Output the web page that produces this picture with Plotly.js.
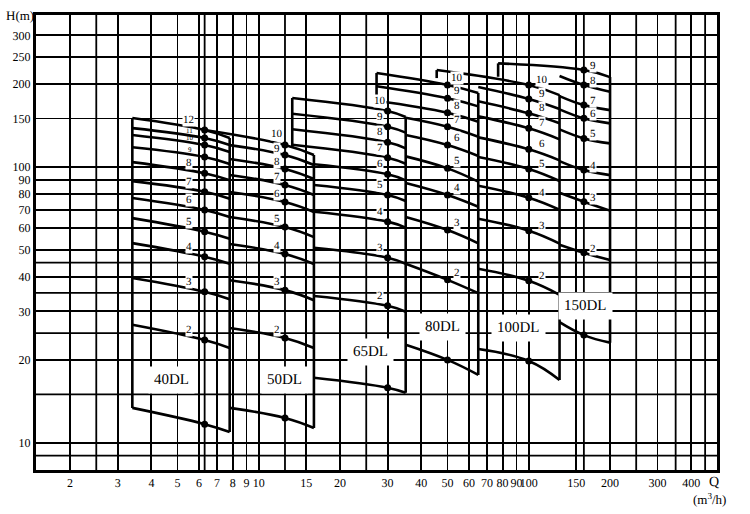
<!DOCTYPE html>
<html><head><meta charset="utf-8">
<script src="https://cdn.plot.ly/plotly-3.0.1.min.js"></script>
<style>html,body{margin:0;padding:0;background:#fff}#chart{width:750px;height:514px}
svg text{-webkit-font-smoothing:antialiased;text-rendering:geometricPrecision}</style>
</head><body><div id="chart"></div>
<script>
// ---- data ----
const families = ['40DL', '50DL', '65DL', '80DL', '100DL', '150DL'];
const qMin   = [3.4, 6.3, 13.3, 27.3, 45.6, 77];
const qRated = [6.3, 12.5, 30, 50, 100, 160];
const qMax   = [7.8, 16, 35, 65, 130, 200];
const leftBottomH = [13.4, null, 118.2, 174.9, 210.1, 212.4];

// per stage (index 0 = 1 stage)
const qStart_40 = [3.4, 3.4, 3.4, 3.4, 3.4, 3.4, 3.4, 3.4, 3.4, 3.4, 3.4, 3.4];
const hStart_40 = [13.4, 26.8, 39.6, 53.0, 65.3, 77.2, 88.9, 104.2, 117.9, 130.6, 138.4, 150.6];
const hRated_40 = [11.7, 23.6, 35.3, 47.3, 58.3, 69.9, 81.4, 94.9, 108.7, 120.1, 127.4, 136.2];
const hEnd_40   = [10.96, 22.1, 33.2, 44.6, 55.0, 65.9, 76.8, 89.5, 102.5, 113.3, 120.2, 127.4];

const qStart_50 = [7.8, 7.8, 7.8, 7.8, 7.8, 7.8, 7.8, 7.8, 7.8, 6.3];
const hStart_50 = [13.4, 26.1, 38.9, 52.6, 65.9, 81.2, 93.6, 107.0, 120.1, 136.2];
const hRated_50 = [12.32, 24.0, 35.8, 48.4, 60.6, 74.7, 86.1, 98.4, 110.5, 120.2];
const hEnd_50   = [11.33, 22.1, 32.9, 44.5, 55.7, 68.7, 79.2, 90.5, 101.7, 110.6];

const qStart_65 = [16, 16, 16, 16, 16, 16, 13.3, 13.3, 13.3, 13.3];
const hStart_65 = [17.24, 34.1, 51.0, 68.9, 86.1, 102.3, 120.5, 137.0, 156.0, 177.9];
const hRated_65 = [15.86, 31.4, 46.9, 63.4, 79.2, 94.1, 108.1, 122.9, 140.0, 159.6];
const hEnd_65   = [15.2, 29.9, 44.6, 60.3, 75.3, 89.5, 102.8, 116.9, 133.2, 151.8];

const qStart_80 = [35, 35, 35, 35, 35, 35, 35, 27.3, 27.3, 27.3];
const hStart_80 = [22.7, 44.6, 65.9, 87.5, 109.3, 130.7, 150.9, 173.9, 196.1, 219.1];
const hRated_80 = [20.0, 39.0, 59.1, 79.2, 98.9, 120.2, 140.0, 157.3, 177.4, 198.2];
const hEnd_80   = [17.65, 34.9, 52.9, 71.8, 88.5, 109.7, 128.8, 145.9, 165.9, 185.4];

const qStart_100 = [65, 65, 65, 65, 65, 65, 65, 65, 65, 45.6];
const hStart_100 = [21.9, 42.8, 65.0, 85.5, 108.8, 128.1, 152.6, 173.0, 195.0, 224.6];
const hRated_100 = [19.82, 38.7, 58.8, 77.4, 98.4, 115.9, 138.1, 156.5, 176.4, 198.2];
const hEnd_100   = [16.9, 34.4, 52.8, 70.0, 89.0, 105.7, 126.0, 144.0, 162.3, 182.3];

const qStart_150 = [130, 130, 130, 130, 130, 130, 130, 130, 77];
const hStart_150 = [27.4, 52.3, 80.7, 105.1, 136.9, 161.8, 180.8, 213.7, 237.5];
const hRated_150 = [24.6, 48.9, 74.9, 97.5, 127.0, 150.1, 167.7, 198.2, 224.6];
const hEnd_150   = [23.1, 46.0, 69.5, 93.5, 121.8, 144.0, 160.8, 187.4, 211.8];

// axis ticks / grid
const xTicks      = [2, 3, 4, 5, 6, 7, 8, 9, 10, 15, 20, 30, 40, 50, 60, 70, 80, 90, 100, 150, 200, 300, 400];
const xTickLabels = ['2', '3', '4', '5', '6', '7', '8', '9', '10', '15', '20', '30', '40', '50', '60', '70', '80', '90', '100', '150', '200', '300', '400'];
const xExtraGrid  = [2.5, 6.3, 12.5, 25, 160, 250, 350, 450];
const yTicks      = [10, 20, 30, 40, 50, 60, 70, 80, 90, 100, 150, 200, 250, 300];
const yTickLabels = ['10', '20', '30', '40', '50', '60', '70', '80', '90', '100', '150', '200', '250', '300'];
const yExtraGrid  = [9, 15, 25, 35, 45];

// ---- styles / layout helpers ----
const qStarts = [qStart_40, qStart_50, qStart_65, qStart_80, qStart_100, qStart_150];
const hStarts = [hStart_40, hStart_50, hStart_65, hStart_80, hStart_100, hStart_150];
const hRateds = [hRated_40, hRated_50, hRated_65, hRated_80, hRated_100, hRated_150];
const hEnds   = [hEnd_40, hEnd_50, hEnd_65, hEnd_80, hEnd_100, hEnd_150];

const numXShift = [-16, -8, -8, 9, 13, 9];
const numYShift = [10, 8, 10, 7, 5, 4];
const yShiftOverride = {'1-9': 11, '1-8': 6, '1-7': 7};   // family index - stage index
const famLabelPos = [[4.73, 16.9], [12.5, 16.9], [26.0, 21.4], [47.9, 26.3], [91.9, 26.2], [162.5, 31.4]];

const FONT = 'Liberation Serif, Times New Roman, serif';
const LW = 2.6;
const GW = 1.8;
const traces = [];
const annotations = [];
const shapes = [];

// extra (unlabelled) grid lines; shapes on log axes take raw data values
xExtraGrid.forEach(v => shapes.push({type: 'line', layer: 'below', xref: 'x', yref: 'paper',
  x0: v, x1: v, y0: 0, y1: 1, line: {color: '#000', width: GW}}));
yExtraGrid.forEach(v => shapes.push({type: 'line', layer: 'below', xref: 'paper', yref: 'y',
  x0: 0, x1: 1, y0: v, y1: v, line: {color: '#000', width: GW}}));

families.forEach((fam, f) => {
  const n = hRateds[f].length;
  const minStarts = [];
  for (let i = 0; i < n; i++) {
    traces.push({
      x: [qStarts[f][i], qRated[f], qMax[f]],
      y: [hStarts[f][i], hRateds[f][i], hEnds[f][i]],
      mode: 'lines', line: {color: '#000', width: LW, shape: 'spline', smoothing: 1.2},
      hoverinfo: 'skip', showlegend: false
    });
    if (qStarts[f][i] === qMin[f]) minStarts.push(hStarts[f][i]);
    if (i >= 1) {
      const small = (f === 0 && i >= 8 && i <= 10);
      const key = f + '-' + i;
      const ys = small ? 7 : (key in yShiftOverride ? yShiftOverride[key] : numYShift[f]);
      annotations.push({
        x: Math.log10(qRated[f]), y: Math.log10(hRateds[f][i]), xref: 'x', yref: 'y',
        text: String(i + 1), showarrow: false,
        xshift: numXShift[f] + (small ? 1 : 0), yshift: ys,
        font: {family: FONT, size: small ? 7 : 11, color: '#000'},
        bgcolor: small ? 'rgba(0,0,0,0)' : '#fff', borderpad: 0
      });
    }
  }
  // rated points
  traces.push({
    x: hRateds[f].map(() => qRated[f]), y: hRateds[f],
    mode: 'markers', marker: {color: '#000', size: 7},
    hoverinfo: 'skip', showlegend: false
  });
  // left boundary
  if (leftBottomH[f] !== null) {
    traces.push({
      x: [qMin[f], qMin[f]], y: [Math.max(...minStarts), leftBottomH[f]],
      mode: 'lines', line: {color: '#000', width: LW}, hoverinfo: 'skip', showlegend: false
    });
  }
  // right boundary
  traces.push({
    x: [qMax[f], qMax[f]], y: [hEnds[f][n - 1], hEnds[f][0]],
    mode: 'lines', line: {color: '#000', width: LW}, hoverinfo: 'skip', showlegend: false
  });
  annotations.push({
    x: Math.log10(famLabelPos[f][0]), y: Math.log10(famLabelPos[f][1]), xref: 'x', yref: 'y',
    text: fam, showarrow: false, font: {family: FONT, size: 15, color: '#000'},
    bgcolor: '#fff', borderpad: 5
  });
});

annotations.push(
  {x: -0.047, y: 1.0, xref: 'paper', yref: 'paper', text: 'H(m)', showarrow: false,
   xanchor: 'left', yanchor: 'middle', font: {family: FONT, size: 13, color: '#000'}},
  {x: 0.9956, y: -0.028, xref: 'paper', yref: 'paper', text: 'Q', showarrow: false,
   xanchor: 'center', yanchor: 'middle', font: {family: FONT, size: 14, color: '#000'}},
  {x: 0.989, y: -0.064, xref: 'paper', yref: 'paper', text: '(m<sup>3</sup>/h)', showarrow: false,
   xanchor: 'center', yanchor: 'middle', font: {family: FONT, size: 13, color: '#000'}}
);

const axisCommon = {
  type: 'log', showgrid: true, gridcolor: '#000', gridwidth: GW,
  showline: true, linecolor: '#000', linewidth: 3, mirror: true,
  ticks: '', zeroline: false, tickmode: 'array', tickangle: 0
};

const layout = {
  width: 750, height: 514,
  margin: {l: 36, r: 33, t: 15, b: 44},
  paper_bgcolor: '#fff', plot_bgcolor: '#fff',
  showlegend: false,
  xaxis: Object.assign({}, axisCommon, {range: [Math.log10(1.495), Math.log10(498)], tickvals: xTicks, ticktext: xTickLabels,
    tickfont: {family: FONT, size: 12, color: '#000'}}),
  yaxis: Object.assign({}, axisCommon, {range: [0.902, 2.551], tickvals: yTicks, ticktext: yTickLabels,
    tickfont: {family: FONT, size: 12, color: '#000'}}),
  annotations: annotations,
  shapes: shapes
};

Plotly.newPlot('chart', traces, layout, {displayModeBar: false, staticPlot: true});
</script></body></html>
